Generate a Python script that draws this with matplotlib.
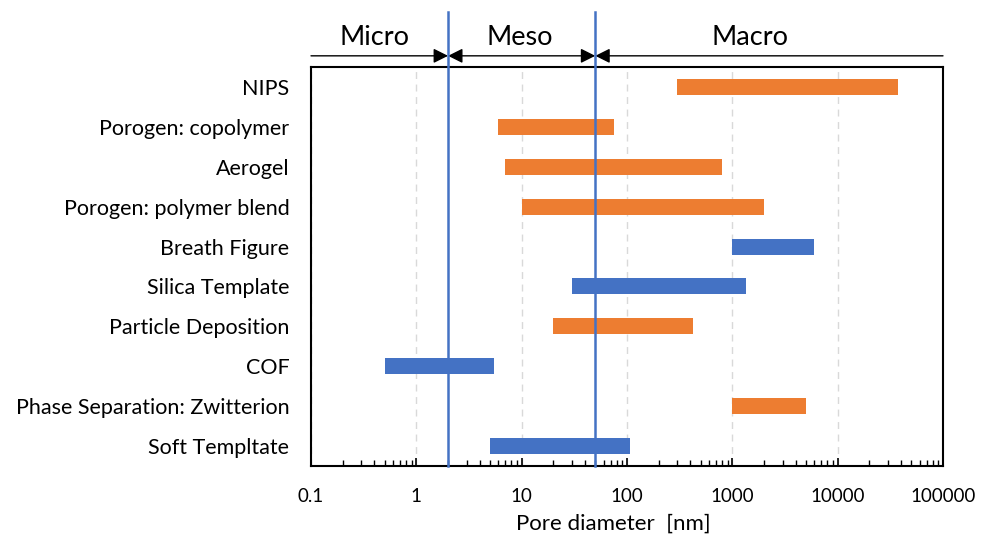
import matplotlib.pyplot as plt
from matplotlib.ticker import LogLocator, FixedLocator, NullFormatter

plt.rcParams['font.family'] = ['Lato', 'DejaVu Sans']

# Data (pore diameter ranges in nm)
methods = ['NIPS', 'Porogen: copolymer', 'Aerogel', 'Porogen: polymer blend',
           'Breath Figure', 'Silica Template', 'Particle Deposition', 'COF',
           'Phase Separation: Zwitterion', 'Soft Templtate']
d_min = [300, 6, 7, 10, 1000, 30, 20, 0.5, 1000, 5]
d_max = [37000, 75, 800, 2000, 6000, 1350, 420, 5.5, 5000, 107]
kind = ['o', 'o', 'o', 'o', 'b', 'b', 'o', 'b', 'o', 'b']
boundaries = [2, 50]
regions = ['Micro', 'Meso', 'Macro']
xticks = [0.1, 1, 10, 100, 1000, 10000, 100000]

colors = {'o': '#ED7D31', 'b': '#4472C4'}

fig = plt.figure(figsize=(9.81, 5.36), dpi=100)
ax = fig.add_axes([311 / 981, 1 - 466 / 536, 632 / 981, 399 / 536])

ypos = list(range(len(methods)))
widths = [b - a for a, b in zip(d_min, d_max)]
ax.barh(ypos, widths, left=d_min, height=0.4,
        color=[colors[k] for k in kind], zorder=3)

ax.set_xscale('log')
ax.set_xlim(0.1, 100000)
ax.set_ylim(len(methods) - 0.5, -0.5)
ax.set_yticks(ypos)
ax.set_yticklabels(methods, fontsize=15.5)
ax.tick_params(axis='y', length=0, pad=15.5)

ax.xaxis.set_major_locator(FixedLocator(xticks))
ax.set_xticklabels([f'{t:g}' for t in xticks], fontsize=13.5)
ax.xaxis.set_minor_locator(LogLocator(base=10, subs=range(2, 10), numticks=20))
ax.xaxis.set_minor_formatter(NullFormatter())
ax.tick_params(axis='x', which='major', direction='in', length=6, width=1.2, pad=16)
ax.tick_params(axis='x', which='minor', direction='in', length=4, width=1)
ax.grid(axis='x', which='major', color='#D9D9D9', linestyle=(0, (5, 4)), linewidth=1, zorder=0)
ax.set_xlabel('Pore diameter  [nm]', fontsize=16, labelpad=6)
ax.xaxis.label.set_x(0.478)

for s in ax.spines.values():
    s.set_linewidth(1.5)

# boundary lines extending above the axes
for b in boundaries:
    ax.plot([b, b], [len(methods) - 0.5, -1.87], color='#4472C4', linewidth=1.8,
            clip_on=False, zorder=4)

# region arrows above the plot
y_arr = -0.78
edges = [0.1] + boundaries + [100000]
arrow_kw = dict(arrowstyle='-|>', color='black', lw=1, mutation_scale=22,
                shrinkA=0, shrinkB=0)
ax.annotate('', xy=(edges[1], y_arr), xytext=(edges[0], y_arr),
            arrowprops=arrow_kw, annotation_clip=False)
ax.annotate('', xy=(edges[2], y_arr), xytext=(edges[1], y_arr),
            arrowprops=dict(arrowstyle='<|-|>', color='black', lw=1,
                            mutation_scale=22, shrinkA=0, shrinkB=0),
            annotation_clip=False)
ax.annotate('', xy=(edges[2], y_arr), xytext=(edges[3], y_arr),
            arrowprops=arrow_kw, annotation_clip=False)

label_x = [0.4, 9.5, 1480]
for name, lx in zip(regions, label_x):
    ax.text(lx, -1.25, name, ha='center', va='center', fontsize=19.5)

fig.savefig('out.png', dpi=100)
